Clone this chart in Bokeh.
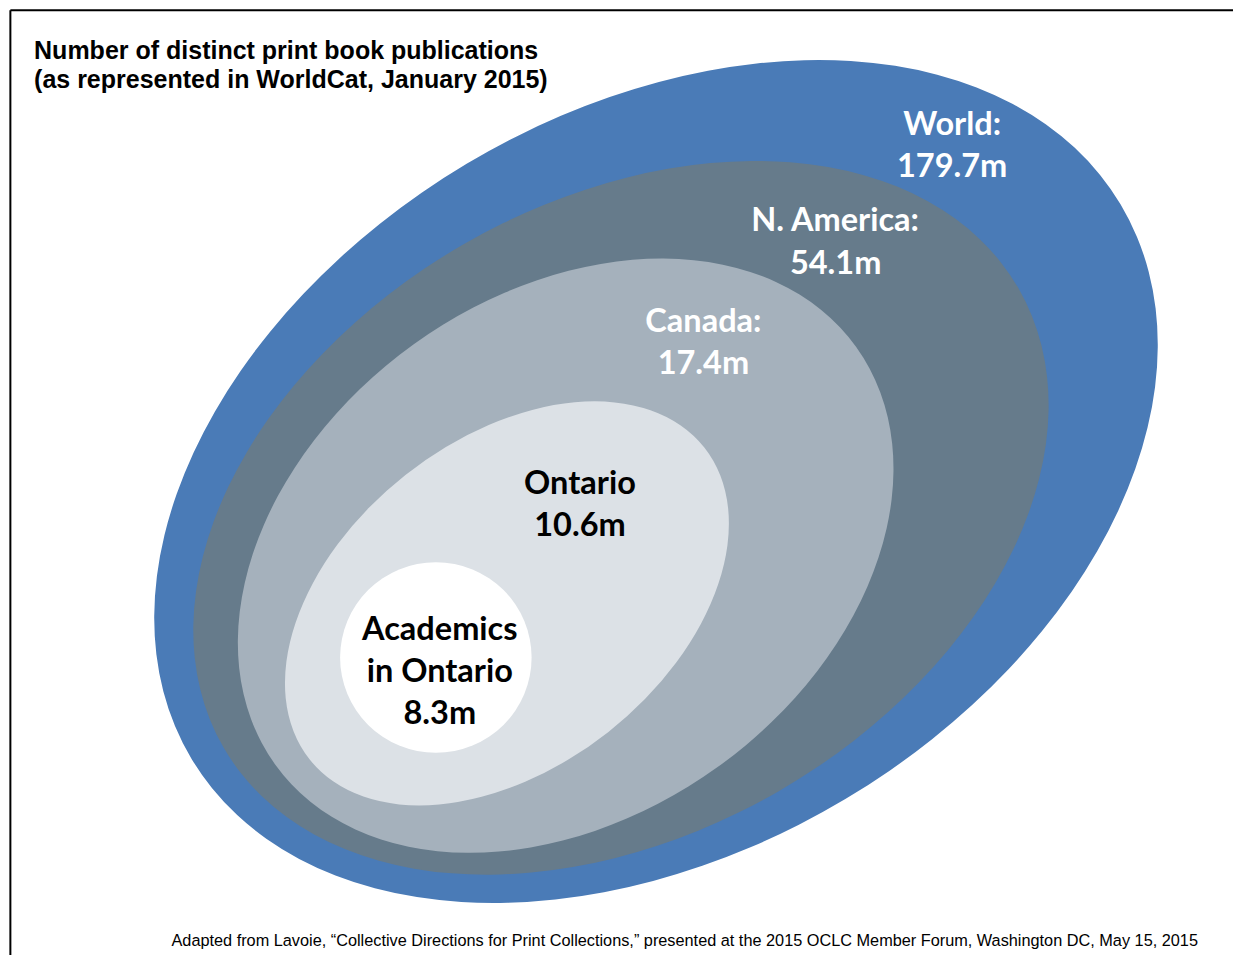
from bokeh.plotting import figure
from bokeh.models import Range1d
from bokeh.core.properties import value
from bokeh.embed import file_html
from bokeh.resources import INLINE
import math

# ---- data ----
regions = ["World", "N. America", "Canada", "Ontario", "Academics in Ontario"]
label_lines = [["World:"], ["N. America:"], ["Canada:"], ["Ontario"], ["Academics", "in Ontario"]]
publications_m = [179.7, 54.1, 17.4, 10.6, 8.3]
title_lines = ["Number of distinct print book publications",
               "(as represented in WorldCat, January 2015)"]
source_note = ("Adapted from Lavoie, \u201cCollective Directions for Print Collections,\u201d "
               "presented at the 2015 OCLC Member Forum, Washington DC, May 15, 2015")

# ---- layout / style (reference pixel space, y measured from top) ----
W, H = 1233, 955
REF_W, REF_H = 1249, 971
def Y(img_y):
    return REF_H - img_y

shape_cx = [664, 628.5, 572.5, 513, 441]
shape_cy = [489, 526, 564.5, 613, 668]
shape_a = [548, 465, 362.4, 254.8, 97]
shape_b = [376, 321, 264.8, 166.5, 97]
shape_deg = [30.8, 30.0, 35.7, 38.3, 0.0]
fills = ["#4A7BB7", "#667B8B", "#A5B1BC", "#DCE1E6", "#FFFFFF"]
text_colors = ["white", "white", "white", "black", "black"]
label_x = [964, 846, 712, 587, 445]
label_y0 = [124, 222, 324, 489, 637]
line_gap = 43

p = figure(width=W, height=H, x_range=Range1d(0, REF_W), y_range=Range1d(0, REF_H),
           output_backend="svg", toolbar_location=None, x_axis_type=None, y_axis_type=None,
           min_border=0)
p.grid.visible = False
p.outline_line_color = None
p.background_fill_color = "white"
p.border_fill_color = "white"

# border (top and left visible)
p.line(x=[10, 10], y=[Y(10), Y(1000)], line_color="black", line_width=2)
p.line(x=[10, 1300], y=[Y(10), Y(10)], line_color="black", line_width=2)

for i in range(len(regions)):
    p.ellipse(x=[shape_cx[i]], y=[Y(shape_cy[i])], width=[2 * shape_a[i]], height=[2 * shape_b[i]],
              angle=[math.radians(shape_deg[i])], fill_color=fills[i], line_color=None)

for i in range(len(regions)):
    lines = label_lines[i] + ["%gm" % publications_m[i]]
    xs = [label_x[i]] * len(lines)
    ys = [Y(label_y0[i] + k * line_gap) for k in range(len(lines))]
    p.text(x=xs, y=ys, text=lines, text_font=value("Lato"), text_font_style="bold",
           text_font_size="32.5px", text_align="center", text_baseline="middle",
           text_color=text_colors[i])

p.text(x=[34, 34], y=[Y(50), Y(80)], text=title_lines, text_font=value("Liberation Sans"),
       text_font_style="bold", text_font_size="25px", text_align="left", text_baseline="middle",
       text_color="black")

p.text(x=[1213], y=[Y(955)], text=[source_note], text_font=value("Liberation Sans"),
       text_font_size="16.3px", text_align="right", text_baseline="middle", text_color="black")

open("out.html", "w").write(file_html(p, INLINE))
